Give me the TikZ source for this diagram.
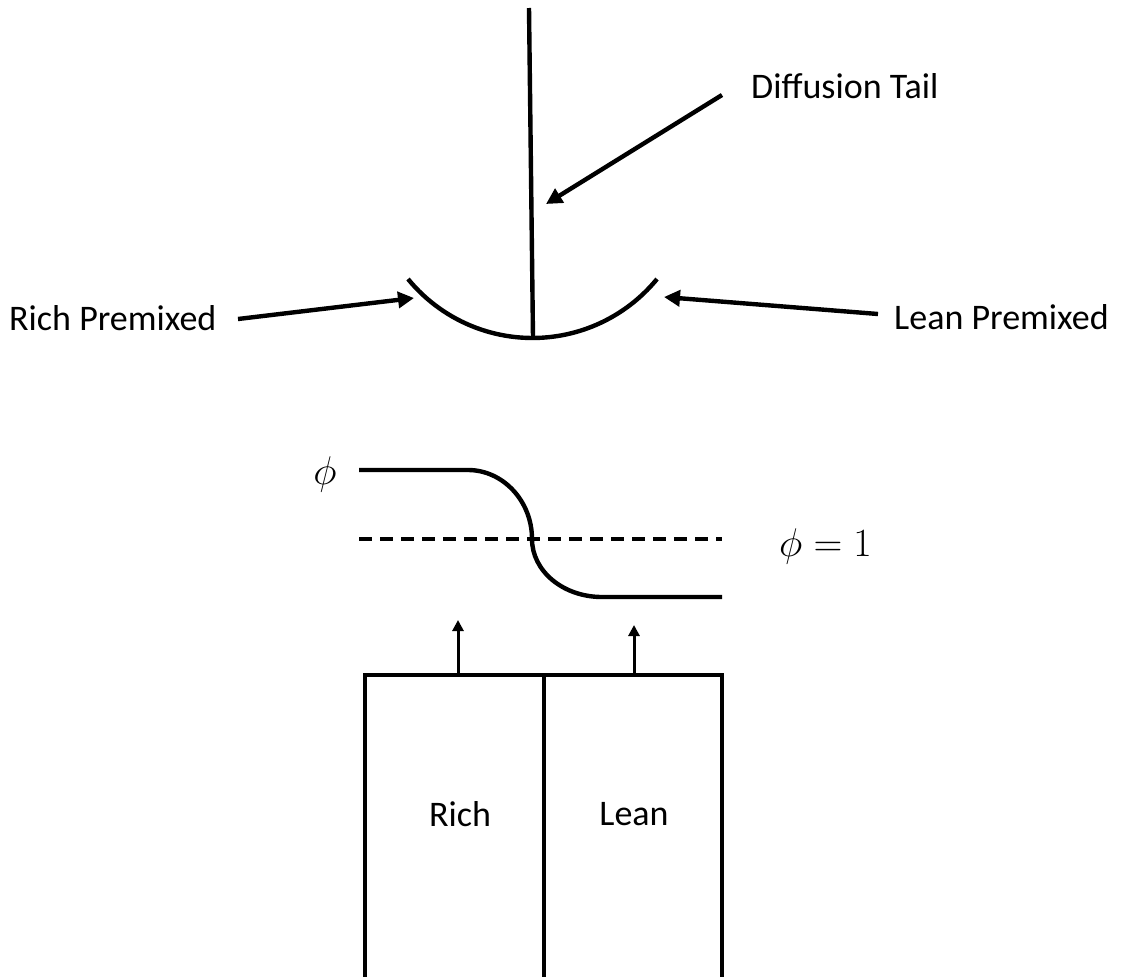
\RequirePackage{fix-cm}
\documentclass[tikz,border=0pt]{standalone}
\usepackage{fontspec}
\setmainfont{Carlito}
\usetikzlibrary{arrows.meta}
\begin{document}
\begin{tikzpicture}[x=1pt,y=-1pt,
  thick line/.style={line width=4.4pt},
  bigarrow/.style={line width=4.4pt,-{Triangle[length=16pt,width=16pt]}},
  smallarrow/.style={line width=3pt,-{Triangle[length=11pt,width=11pt]}},
  lbl/.style={inner sep=0pt,font=\fontsize{36}{42}\selectfont},
  mlbl/.style={inner sep=0pt,font=\fontsize{40}{46}\selectfont}]
\useasboundingbox (0,0) rectangle (1126,977);
% flame
\coordinate (tailtop) at (529,8);
\coordinate (tailbot) at (533,338);
\draw[thick line] (tailtop) -- (tailbot);
\coordinate (arcL) at (408,279);
\draw[thick line] (arcL) arc[start angle=140.7, end angle=39.3, radius=160.9];
% labels
\node[lbl,anchor=west] (diff) at (751,86) {Diffusion Tail};
\node[lbl,anchor=west] (rich) at (9,318) {Rich Premixed};
\node[lbl,anchor=west] (lean) at (894,317) {Lean Premixed};
\coordinate (diffS) at (722,95);
\coordinate (diffT) at (546,204);
\coordinate (richS) at (238,319);
\coordinate (richT) at (414,298);
\coordinate (leanS) at (878,314);
\coordinate (leanT) at (664,297);
\draw[bigarrow] (diffS) -- (diffT);
\draw[bigarrow] (richS) -- (richT);
\draw[bigarrow] (leanS) -- (leanT);
% phi profile
\node[mlbl,anchor=base] (phi) at (325,484) {$\phi$};
\node[mlbl,anchor=base west] (phione) at (779,556) {$\phi = 1$};
\coordinate (p0) at (359,470);
\coordinate (p1) at (468,470);
\coordinate (pm) at (532,539);
\coordinate (p2) at (602,597);
\coordinate (p3) at (722,597);
\draw[thick line] (p0) -- (p1) .. controls (503,470) and (532,501) .. (pm)
  .. controls (532,571) and (563,597) .. (p2) -- (p3);
\coordinate (d0) at (359,539);
\coordinate (d1) at (722,539);
\draw[line width=4.6pt,dash pattern=on 13pt off 8pt] (d0) -- (d1);
% burner
\coordinate (bl) at (365,977);
\coordinate (bm) at (544,977);
\coordinate (br) at (722,977);
\coordinate (tl) at (363,675);
\coordinate (tm) at (544,675);
\coordinate (tr) at (724,675);
\draw[thick line] (tl) -- (tr);
\draw[thick line] (365,675) -- (bl);
\draw[thick line] (tm) -- (bm);
\draw[thick line] (722,675) -- (br);
\coordinate (a1s) at (458,675);
\coordinate (a1t) at (458,620);
\coordinate (a2s) at (634,675);
\coordinate (a2t) at (634,625);
\draw[smallarrow] (a1s) -- (a1t);
\draw[smallarrow] (a2s) -- (a2t);
\node[lbl] (richb) at (460,814) {Rich};
\node[lbl] (leanb) at (634,814) {Lean};
\end{tikzpicture}
\end{document}
